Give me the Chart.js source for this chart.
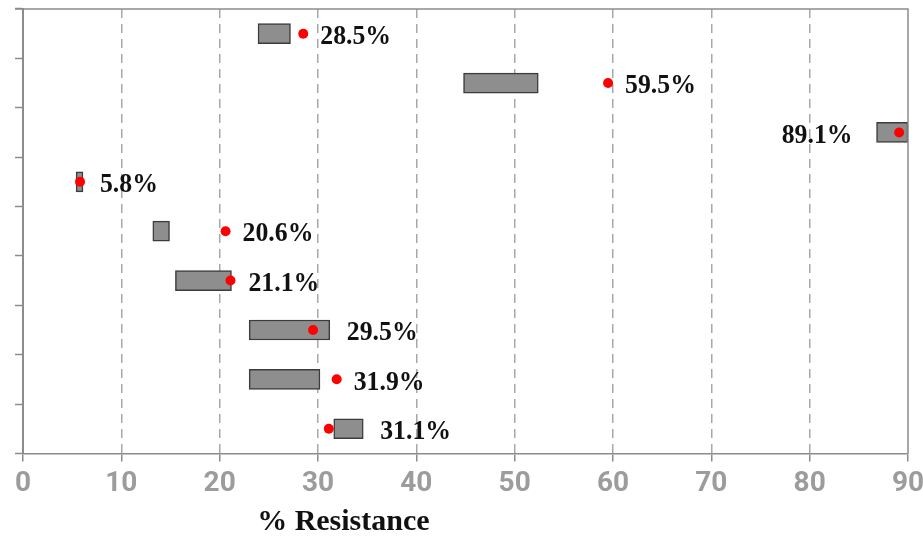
<!DOCTYPE html>
<html>
<head>
<meta charset="utf-8">
<script src="https://cdn.jsdelivr.net/npm/chart.js@4"></script>
<style>
  html, body { margin: 0; padding: 0; background: #fff; }
</style>
</head>
<body>
<canvas id="myChart" width="923" height="537"></canvas>
<script>
// rows top to bottom (no names shown on the axis)
var rows = ['1', '2', '3', '4', '5', '6', '7', '8', '9'];
// grey range bars
var barStart = [23.9, 44.8, 86.8, 5.4, 13.2, 15.5, 23.0, 23.0, 31.6];
var barEnd = [27.2, 52.4, 90.0, 6.1, 14.9, 21.2, 31.2, 30.2, 34.6];
// red dots, also the labels
var resistance = [28.5, 59.5, 89.1, 5.8, 20.6, 21.1, 29.5, 31.9, 31.1];
var xMin = 0, xMax = 90, xStep = 10;
var xTitle = '% Resistance';

var axisGrey = '#8c8c8c';

// value labels next to each row
var valueLabels = {
  id: 'valueLabels',
  afterDatasetsDraw: function(chart) {
    var ctx = chart.ctx, xs = chart.scales.x, ys = chart.scales.y, area = chart.chartArea;
    ctx.save();
    ctx.font = 'bold 28px "Liberation Serif"';
    ctx.fillStyle = '#111';
    ctx.textBaseline = 'middle';
    resistance.forEach(function(v, i) {
      var txt = v.toFixed(1) + '%';
      var w = ctx.measureText(txt).width * 0.92;
      var y = ys.getPixelForValue(i) + 3;
      var x = xs.getPixelForValue(Math.max(v, barEnd[i])) + 17;
      if (x + w > area.right) {
        x = xs.getPixelForValue(barStart[i]) - 24 - w;
      }
      // squeeze the text a little, the figure's labels are narrow
      ctx.save();
      ctx.translate(x, y);
      ctx.scale(0.92, 1);
      ctx.textAlign = 'left';
      ctx.fillText(txt, 0, 0);
      ctx.restore();
    });
    ctx.restore();
  }
};

// top + right frame and the axis title
var frame = {
  id: 'frame',
  afterDraw: function(chart) {
    var ctx = chart.ctx, a = chart.chartArea;
    ctx.save();
    ctx.strokeStyle = axisGrey;
    ctx.lineWidth = 1.5;
    ctx.beginPath();
    ctx.moveTo(a.left - 8, a.top);
    ctx.lineTo(a.right, a.top);
    ctx.lineTo(a.right, a.bottom);
    ctx.stroke();

    ctx.font = 'bold 30px "Liberation Serif"';
    ctx.fillStyle = '#111';
    ctx.textAlign = 'center';
    ctx.textBaseline = 'middle';
    ctx.fillText(xTitle, a.left + (a.right - a.left) * 0.362, 522);
    ctx.restore();
  }
};

new Chart("myChart", {
  type: "bar",
  data: {
    labels: rows,
    datasets: [{
      type: 'line',
      label: 'resistance',
      data: resistance,
      showLine: false,
      pointRadius: 5,
      pointHoverRadius: 5,
      pointBackgroundColor: '#ff0000',
      pointBorderWidth: 0,
      borderColor: '#ff0000'
    }, {
      label: 'range',
      data: rows.map(function(r, i) { return [barStart[i], barEnd[i]]; }),
      backgroundColor: '#8e8e8e',
      borderColor: '#3c3c3c',
      borderWidth: 1.5,
      borderSkipped: false,
      barThickness: 20
    }]
  },
  options: {
    responsive: false,
    animation: false,
    indexAxis: 'y',
    layout: { padding: { left: 15, top: 9, right: 15, bottom: 30 } },
    plugins: {
      legend: { display: false },
      tooltip: { enabled: false }
    },
    scales: {
      x: {
        type: 'linear',
        min: xMin,
        max: xMax,
        // let the "90" run to the page edge like in the figure
        afterFit: function(scale) { scale.paddingRight = 0; },
        ticks: {
          stepSize: xStep,
          color: '#9c9c9c',
          padding: 6,
          font: { family: 'Roboto', size: 28, weight: 'bold' },
          maxRotation: 0
        },
        grid: {
          color: function(c) { return (c.tick && (c.tick.value === xMin || c.tick.value === xMax)) ? 'rgba(0,0,0,0)' : '#a8a8a8'; },
          lineWidth: 1.5,
          tickLength: 8,
          tickColor: axisGrey,
          tickWidth: 1.5
        },
        border: { color: axisGrey, width: 1.5, dash: [9, 6] }
      },
      y: {
        ticks: { display: false },
        grid: {
          drawOnChartArea: false,
          tickLength: 8,
          tickColor: axisGrey,
          tickWidth: 1.5
        },
        border: { color: axisGrey, width: 2 }
      }
    }
  },
  plugins: [valueLabels, frame]
});
</script>
</body>
</html>
